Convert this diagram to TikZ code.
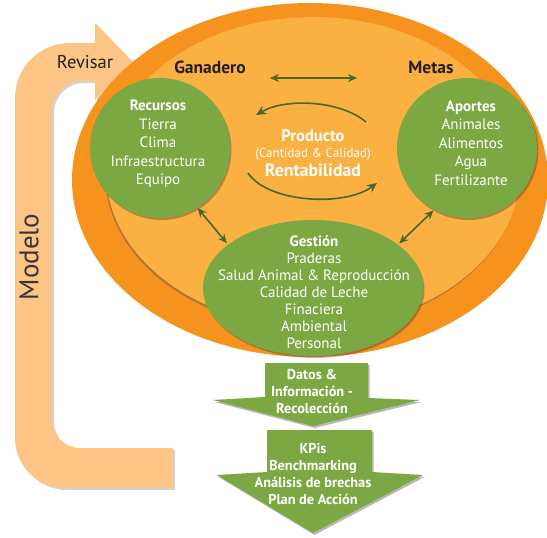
\documentclass[tikz,border=0pt]{standalone}
\usepackage{fontspec}
\setmainfont{PT Sans}
\usetikzlibrary{shapes.geometric,arrows.meta,shadows}
\definecolor{outerOr}{HTML}{F6921E}
\definecolor{innerOr}{HTML}{FBB042}
\definecolor{leaf}{HTML}{7CA843}
\definecolor{darkleaf}{HTML}{44692A}
\definecolor{peach}{HTML}{FCC585}
\definecolor{ink}{HTML}{231F20}
\tikzset{
  softshadow/.style={drop shadow={shadow xshift=1.5pt,shadow yshift=-2pt,opacity=0.35,fill=black!80}},
  blob/.style={ellipse,fill=leaf,inner sep=0pt,outer sep=0pt,softshadow},
  blobtext/.style={align=center,text=white,inner sep=0pt,font=\fontsize{15}{18.5}\selectfont},
  arrowtext/.style={align=center,text=white,inner sep=0pt,font=\bfseries\fontsize{14.3}{17}\selectfont},
  toplabel/.style={text=ink,inner sep=0pt,font=\bfseries\fontsize{17.5}{20}\selectfont},
  link/.style={draw=darkleaf,line width=1.6pt,{Stealth[length=9pt,width=8pt]}-{Stealth[length=9pt,width=8pt]}},
  cycle/.style={draw=darkleaf,line width=1.6pt,-{Stealth[length=10pt,width=9pt]}},
  bigarrow/.style={fill=leaf,softshadow},
}
\begin{document}
\begin{tikzpicture}[x=1pt,y=-1pt]
\useasboundingbox (0,0) rectangle (547,538);

% U-shaped "Modelo / Revisar" arrow
\fill[peach,drop shadow={shadow xshift=2pt,shadow yshift=-2pt,opacity=0.35}]
  (132,61) -- (95,100) -- (95,81) -- (82,81)
  .. controls (65.4,81) and (52,94.4) .. (52,111)
  -- (52,420) .. controls (52,435.5) and (64.5,448) .. (80,448)
  -- (173,448) -- (173,488) -- (65,488)
  .. controls (37.4,488) and (15,465.6) .. (15,438)
  -- (15,98) .. controls (15,67.6) and (39.6,43) .. (70,43)
  -- (95,43) -- (95,23) -- cycle;
\node[text=ink,inner sep=0pt,font=\fontsize{18.5}{20}\selectfont] (rev) at (85,62) {Revisar};
\node[text=ink!90,inner sep=0pt,rotate=90,font=\fontsize{27}{30}\selectfont] (mod) at (29,257) {Modelo};

% Ellipses
\node[ellipse,fill=outerOr,minimum width=476pt,minimum height=354pt,inner sep=0pt] (outer) at (310,180) {};
\node[ellipse,fill=innerOr,minimum width=414pt,minimum height=310pt,inner sep=0pt,
      drop shadow={shadow xshift=-1pt,shadow yshift=-2pt,opacity=0.4,fill=black!70}] (inner) at (313,172) {};

% Green circles
\node[blob,minimum width=140pt,minimum height=140pt] (rec) at (160,148) {};
\node[blob,minimum width=140pt,minimum height=140pt] (ap) at (467,148) {};
\node[blob,minimum width=220pt,minimum height=136pt] (ges) at (313,288) {};

\node[blobtext] (rect) at (158,144) {\textbf{Recursos}\\Tierra\\Clima\\Infraestructura\\Equipo};
\node[blobtext] (apt) at (471,143) {\textbf{Aportes}\\Animales\\Alimentos\\Agua\\Fertilizante};
\node[blobtext,font=\fontsize{15}{17}\selectfont] (gest) at (314,292) {\textbf{Gestión}\\Praderas\\Salud Animal \& Reproducción\\Calidad de Leche\\Finaciera\\Ambiental\\Personal};

% Labels
\node[toplabel] (gan) at (210,67) {Ganadero};
\node[toplabel] (met) at (431,67) {Metas};

% Center text
\node[text=white,inner sep=0pt,font=\bfseries\fontsize{16.5}{18}\selectfont] (prod) at (313,136) {Producto};
\node[text=white,inner sep=0pt,font=\fontsize{13}{15}\selectfont] (cant) at (313,154) {(Cantidad \& Calidad)};
\node[text=white,inner sep=0pt,font=\bfseries\fontsize{17.8}{20}\selectfont] (rent) at (313,170) {Rentabilidad};

% Connectors
\coordinate (g1) at (270,78);
\coordinate (g2) at (357,78);
\draw[link] (g1) -- (g2);

\coordinate (c1s) at (366,122);
\coordinate (c1e) at (256,115);
\draw[cycle] (c1s) .. controls (340,100) and (285,98) .. (c1e);
\coordinate (c2s) at (248,173);
\coordinate (c2e) at (377,183);
\draw[cycle] (c2s) .. controls (268,203) and (345,207) .. (c2e);

\draw[link,shorten <=1pt,shorten >=2pt] (rec.-58) -- (ges.153);
\draw[link,shorten <=1pt,shorten >=2pt] (ap.242) -- (ges.27);

% Big green arrows
\fill[bigarrow] (265,363) -- (368,363) -- (368,398) -- (420,400) -- (313,426) -- (213,400) -- (265,397) -- cycle;
\node[arrowtext] (datos) at (312,391) {Datos \&\\Información -\\Recolección};
\fill[bigarrow] (267,430) -- (372,430) -- (372,472) -- (423,475) -- (313,533) -- (217,475) -- (267,472) -- cycle;
\node[arrowtext] (kpi) at (313,474.5) {KPis\\Benchmarking\\Análisis de brechas\\Plan de Acción};
\end{tikzpicture}
\end{document}
